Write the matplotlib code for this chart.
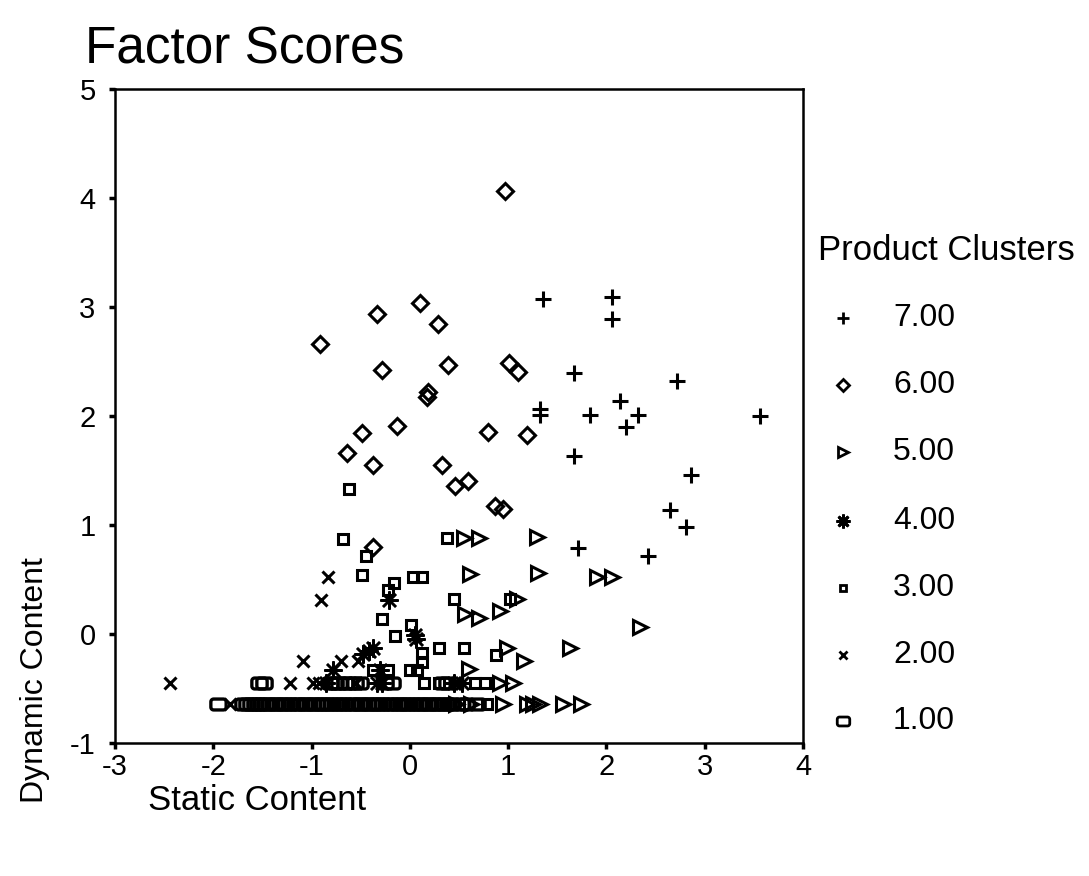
import numpy as np
import matplotlib
matplotlib.use("Agg")
import matplotlib.pyplot as plt
from matplotlib.path import Path

plt.rcParams["font.family"] = ["Liberation Sans", "DejaVu Sans"]

# ---- data: factor scores per product cluster ----
clusters = ["7.00", "6.00", "5.00", "4.00", "3.00", "2.00", "1.00"]

x7 = [1.35, 2.06, 2.06, 1.67, 2.72, 2.14, 1.32, 1.32, 1.83, 2.32, 2.20, 3.56,
      1.67, 2.86, 2.65, 2.81, 1.71, 2.42]
y7 = [3.07, 3.09, 2.89, 2.39, 2.32, 2.14, 2.06, 2.01, 2.01, 2.01, 1.90, 2.00,
      1.63, 1.46, 1.14, 0.98, 0.79, 0.72]

x6 = [0.97, 0.10, -0.33, 0.29, -0.91, 0.39, 1.01, 1.10, -0.28, 0.18, 0.17,
      -0.13, -0.49, 0.80, 1.19, -0.64, -0.38, 0.33, 0.59, 0.46, 0.87, 0.95, -0.38]
y6 = [4.06, 3.04, 2.94, 2.84, 2.66, 2.47, 2.49, 2.40, 2.42, 2.22, 2.17,
      1.91, 1.84, 1.85, 1.83, 1.66, 1.55, 1.55, 1.40, 1.36, 1.17, 1.15, 0.80]

x5 = [0.55, 0.70, 1.29, 0.61, 1.30, 1.90, 2.06, 1.09, 0.56, 0.70, 0.92, 2.34,
      0.99, 1.63, 1.16, 0.60, 0.92, 1.05, 0.47, 0.62, 0.95, 1.19, 1.25, 1.32,
      1.56, 1.74]
y5 = [0.88, 0.88, 0.89, 0.55, 0.56, 0.52, 0.52, 0.32, 0.18, 0.15, 0.21, 0.06,
      -0.13, -0.13, -0.25, -0.32, -0.45, -0.45, -0.64, -0.64, -0.64, -0.64,
      -0.64, -0.64, -0.64, -0.64]

x4 = [-0.21, 0.05, 0.06, -0.78, -0.48, -0.42, -0.38, -0.33, -0.28, 0.45, 0.53,
      -0.30, -0.85]
y4 = [0.31, -0.01, -0.05, -0.33, -0.18, -0.16, -0.13, -0.45, -0.45, -0.45,
      -0.45, -0.33, -0.45]

x3 = [-0.62, -0.68, -0.45, 0.38, -0.49, 0.03, 0.12, -0.16, -0.22, -0.28, 0.01,
      -0.15, 0.30, 0.55, 0.12, 0.12, 0.45, 1.02, 0.88, -0.38, -0.22, 0.00,
      0.07, 0.14, 0.66, 0.76, 0.30, 0.78]
y3 = [1.33, 0.87, 0.72, 0.88, 0.54, 0.52, 0.52, 0.47, 0.40, 0.14, 0.08,
      -0.02, -0.13, -0.13, -0.17, -0.26, 0.32, 0.32, -0.19, -0.33, -0.33, -0.33,
      -0.33, -0.45, -0.45, -0.45, -0.45, -0.64]

x2 = [-2.44, -0.83, -0.90, -1.09, -0.70, -0.53, -1.22, -0.99, -0.92, -1.83,
      0.48, -0.55]
y2 = [-0.45, 0.52, 0.31, -0.25, -0.25, -0.25, -0.45, -0.45, -0.45, -0.64,
      -0.45, -0.45]

x1 = [-1.53, -1.48, -0.81, -0.76, -0.72, -0.66, -0.62, -0.56, -0.51, -0.25,
      -0.18, 0.33, 0.38, -1.95,
      -1.70, -1.66, -1.62, -1.58, -1.55, -1.51, -1.47, -1.43, -1.38, -1.35,
      -1.30, -1.26, -1.22, -1.17, -1.13, -1.08, -1.05, -1.00, -0.96, -0.91,
      -0.87, -0.83, -0.79, -0.74, -0.70, -0.66, -0.61, -0.57, -0.52, -0.49,
      -0.44, -0.40, -0.35, -0.31, -0.27, -0.22, -0.18, -0.13, -0.09, -0.05,
      -0.01, 0.04, 0.08, 0.12, 0.17, 0.21, 0.26, 0.30, 0.34, 0.39, 0.43,
      0.52, 0.57, 0.68]
y1 = [-0.45] * 13 + [-0.64] * 55

xticks = [-3, -2, -1, 0, 1, 2, 3, 4]
yticks = [-1, 0, 1, 2, 3, 4, 5]


def rounded_box():
    # wide rounded rectangle, like the SPSS "1.00" symbol
    w, h, r = 0.7, 0.5, 0.25
    pts = []
    for cx, cy, a0 in [(w - r, h - r, 0), (-w + r, h - r, 90),
                       (-w + r, -h + r, 180), (w - r, -h + r, 270)]:
        for a in np.linspace(a0, a0 + 90, 6):
            pts.append((cx + r * np.cos(np.radians(a)), cy + r * np.sin(np.radians(a))))
    pts.append(pts[0])
    codes = [Path.MOVETO] + [Path.LINETO] * (len(pts) - 2) + [Path.CLOSEPOLY]
    return Path(pts, codes)


star = (8, 2, 0)
styles = {
    "7.00": dict(marker="+", ms=12, mew=2.2, lms=9),
    "6.00": dict(marker="D", ms=8, mew=2.2, lms=6),
    "5.00": dict(marker=">", ms=10, mew=2.2, lms=7),
    "4.00": dict(marker=star, ms=13, mew=1.8, lms=10),
    "3.00": dict(marker="s", ms=7, mew=2.2, lms=5),
    "2.00": dict(marker="x", ms=8, mew=2.2, lms=6),
    "1.00": dict(marker=rounded_box(), ms=11, mew=2.4, lms=9),
}
series = {"7.00": (x7, y7), "6.00": (x6, y6), "5.00": (x5, y5), "4.00": (x4, y4),
          "3.00": (x3, y3), "2.00": (x2, y2), "1.00": (x1, y1)}

fig = plt.figure(figsize=(10.89, 8.76), dpi=100)
ax = fig.add_axes([115 / 1089, 1 - 743 / 876, (803 - 115) / 1089, (743 - 89) / 876])

for name in clusters[::-1]:
    xs, ys = series[name]
    st = styles[name]
    ax.plot(xs, ys, linestyle="none", marker=st["marker"], markersize=st["ms"],
            markerfacecolor="none", markeredgecolor="black",
            markeredgewidth=st["mew"], clip_on=False)

ax.set_xlim(-3, 4)
ax.set_ylim(-1, 5)
ax.set_xticks(xticks)
ax.set_yticks(yticks)
ax.set_xticklabels([str(t) for t in xticks], fontsize=21)
ax.set_yticklabels([str(t) for t in yticks], fontsize=21)
ax.tick_params(direction="out", length=4, width=2.5)
ax.tick_params(axis="x", pad=3)
ax.tick_params(axis="y", pad=10)
for sp in ax.spines.values():
    sp.set_linewidth(1.8)

fig.text(85 / 1089, 1 - 50 / 876, "Factor Scores", fontsize=37, va="center", ha="left")
fig.text(35 / 1089, 1 - 680 / 876, "Dynamic Content", fontsize=23, rotation=90,
         va="center", ha="center")
fig.text(148 / 1089, 1 - 800 / 876, "Static Content", fontsize=25, va="center", ha="left")

# legend drawn by hand to keep SPSS-style spacing
lg = fig.add_axes([0, 0, 1, 1], facecolor="none")
lg.set_xlim(0, 1089)
lg.set_ylim(876, 0)
lg.axis("off")
lg.text(818, 250, "Product Clusters", fontsize=25, va="center", ha="left")
legend_y = [318, 385, 452, 521, 588, 655, 721]
for name, ly in zip(clusters, legend_y):
    st = styles[name]
    lg.plot([843], [ly], linestyle="none", marker=st["marker"], markersize=st["lms"],
            markerfacecolor="none", markeredgecolor="black", markeredgewidth=2.0)
    lg.text(893, ly, name, fontsize=23, va="center", ha="left")

fig.savefig("out.png", dpi=100)
